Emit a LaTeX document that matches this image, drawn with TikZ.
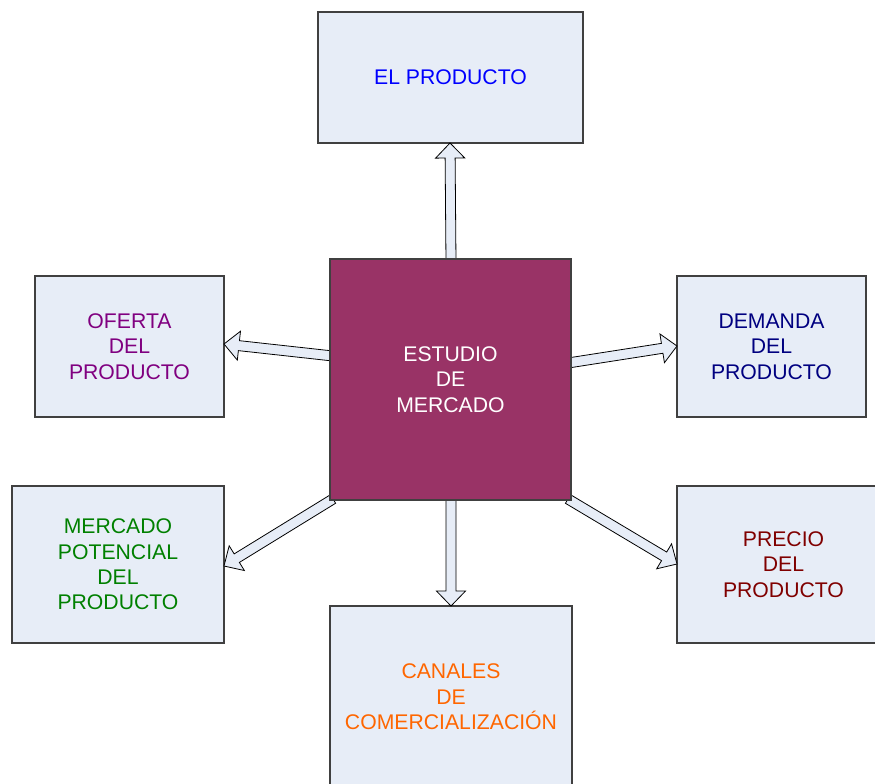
\documentclass[tikz,border=0pt]{standalone}
\usepackage{fontspec}
\setmainfont{Liberation Sans}
\usetikzlibrary{calc}
\definecolor{boxfill}{HTML}{E7EDF7}
\definecolor{boxline}{HTML}{404040}
\definecolor{centerfill}{HTML}{993366}
\definecolor{cblue}{HTML}{0000FF}
\definecolor{cpurple}{HTML}{800080}
\definecolor{cnavy}{HTML}{000080}
\definecolor{cgreen}{HTML}{008000}
\definecolor{cdred}{HTML}{800000}
\definecolor{corange}{HTML}{FF6600}
\tikzset{
  box/.style={draw=boxline, line width=0.8pt, fill=boxfill, align=center, inner sep=0pt,
    font=\fontsize{15.9}{19}\selectfont},
  arr/.style={draw=black, line width=0.6pt, fill=boxfill, line join=miter},
}
\newcommand\blkarrow[2]{%
  \coordinate (hb) at ($(#2)!11.25pt!(#1)$);
  \draw[arr] ($(#1)!3.75pt!90:(#2)$) -- ($(hb)!3.75pt!90:(#2)$) -- ($(hb)!10.9pt!90:(#2)$)
    -- (#2) -- ($(hb)!10.9pt!-90:(#2)$) -- ($(hb)!3.75pt!-90:(#2)$) -- ($(#1)!3.75pt!-90:(#2)$) -- cycle;}
\begin{document}
\begin{tikzpicture}[x=0.75pt, y=-0.75pt]
\useasboundingbox (0,0) rectangle (875,783);
\clip (0,0) rectangle (875,783);
\node[box, text=cblue, minimum width=265*0.75pt, minimum height=131*0.75pt] (prod) at (450.5,77.5) {EL PRODUCTO};
\node[box, text=cpurple, minimum width=189*0.75pt, minimum height=141*0.75pt] (ofe) at (129.5,346.5) {OFERTA\\DEL\\PRODUCTO};
\node[box, text=cnavy, minimum width=189*0.75pt, minimum height=141*0.75pt] (dem) at (771.5,346.5) {DEMANDA\\DEL\\PRODUCTO};
\node[box, text=cgreen, minimum width=212*0.75pt, minimum height=157*0.75pt] (mer) at (118,564.5) {MERCADO\\POTENCIAL\\DEL\\PRODUCTO};
\node[box, text=cdred, minimum width=213*0.75pt, minimum height=157*0.75pt] (pre) at (783.5,564.5) {PRECIO\\DEL\\PRODUCTO};
\node[box, text=corange, minimum width=242*0.75pt, minimum height=182*0.75pt] (can) at (451,697) {CANALES\\DE\\COMERCIALIZACIÓN};
% arrow end points
\coordinate (tU) at (451,262); \coordinate (pU) at (450,143);
\coordinate (tL) at (333,356); \coordinate (pL) at (224,344);
\coordinate (tR) at (568,363); \coordinate (pR) at (677,346);
\coordinate (tLL) at (333,499); \coordinate (pLL) at (224,566);
\coordinate (tLR) at (568,499); \coordinate (pLR) at (677,564);
\coordinate (tD) at (451,497); \coordinate (pD) at (451,606);
\blkarrow{tU}{pU}
\blkarrow{tL}{pL}
\blkarrow{tR}{pR}
\blkarrow{tLL}{pLL}
\blkarrow{tLR}{pLR}
\blkarrow{tD}{pD}
\node[box, fill=centerfill, text=white, minimum width=241*0.75pt, minimum height=241*0.75pt] (est) at (450.5,379.5) {ESTUDIO\\DE\\MERCADO};
\end{tikzpicture}
\end{document}
